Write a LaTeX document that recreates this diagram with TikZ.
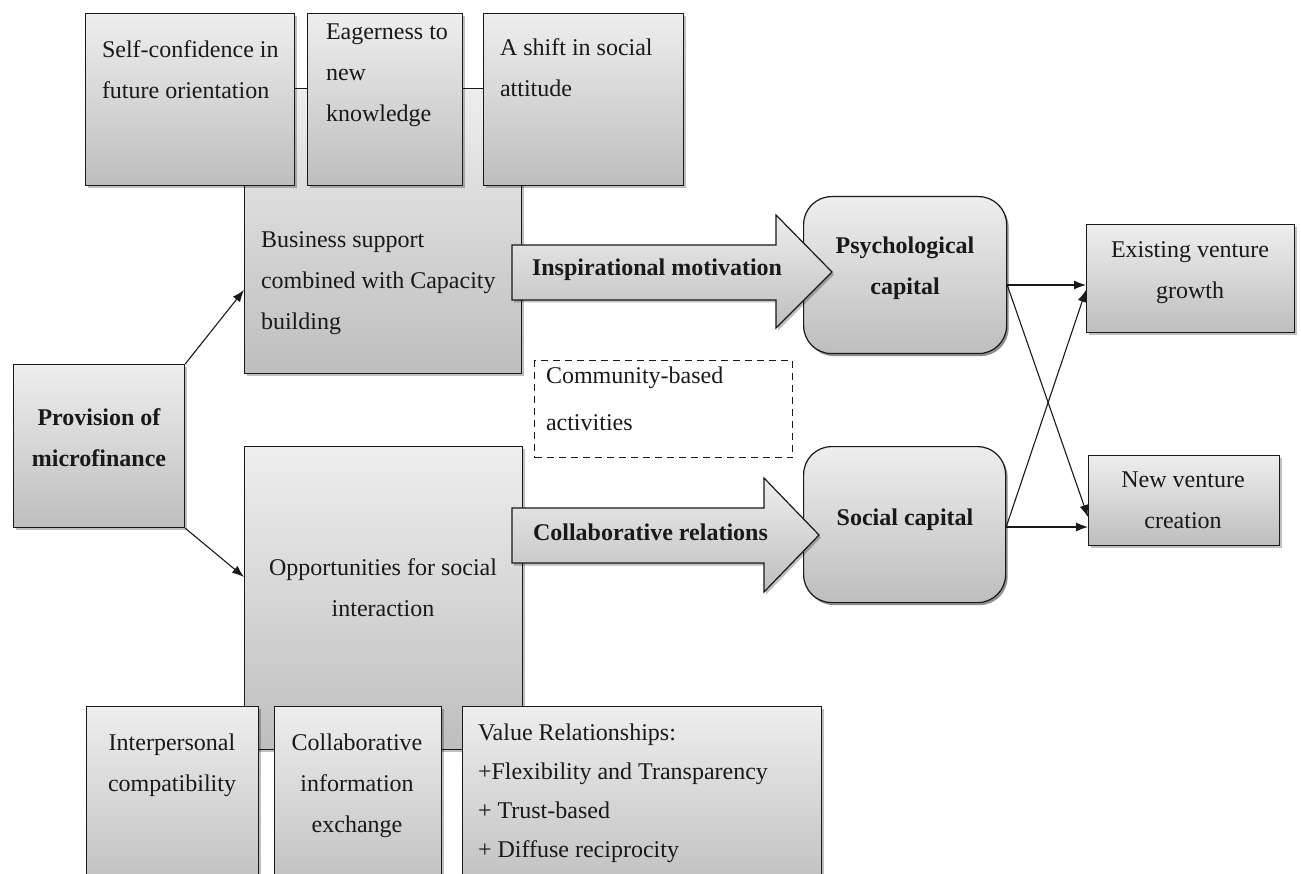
\documentclass[tikz,border=0pt]{standalone}
\usepackage{fontspec}
\setmainfont{Liberation Serif}
\usetikzlibrary{shadows,arrows.meta,calc}
\definecolor{boxtop}{RGB}{238,238,238}
\definecolor{boxbot}{RGB}{190,190,190}
\definecolor{ink}{RGB}{25,25,25}
\newcommand{\gbox}[6][]{\node[box,#1,anchor=north west,minimum width=#5pt,minimum height=#6pt] (#2) at (#3,#4) {};}
\begin{document}
\begin{tikzpicture}[x=1pt,y=-1pt,
  box/.style={draw=ink,line width=1.2pt,top color=boxtop,bottom color=boxbot,rectangle,inner sep=0pt,
    drop shadow={shadow xshift=2pt,shadow yshift=-2.5pt,opacity=0.25,fill=black}},
  rbox/.style={box,rounded corners=28pt},
  txt/.style={inner sep=0pt,outer sep=0pt,text=ink,font=\fontsize{24}{41}\selectfont},
  btxt/.style={txt,font=\fontsize{24}{41}\selectfont\bfseries},
  conn/.style={draw=ink,line width=1.1pt,-{Latex[length=12pt,width=9pt]}},
  barrow/.style={draw=ink,line width=1.2pt,top color=boxtop,bottom color=boxbot,
    drop shadow={shadow xshift=2pt,shadow yshift=-2.5pt,opacity=0.25,fill=black}}]
\useasboundingbox (0,0) rectangle (1301,874);
\clip (0,0) rectangle (1301,874);

% business support cluster
\gbox{bs}{244}{88}{277}{285}
\gbox{sc}{85}{13}{209}{172}
\gbox{eg}{307}{13}{155}{172}
\gbox{sh}{483}{13}{200}{172}
\node[txt,anchor=north west,align=left] (sct) at (102,41) {Self-confidence in\\future orientation};
\node[txt,anchor=north west,align=left] (egt) at (326,24) {Eagerness to\\new\\knowledge};
\node[txt,anchor=north west,align=left] (sht) at (500,39) {A shift in social\\attitude};
\node[txt,anchor=north west,align=left] (bst) at (261,232) {Business support\\combined with Capacity\\building};

% social interaction cluster
\gbox{opp}{244}{446}{278}{303}
\gbox{ip}{86}{706}{172}{190}
\gbox{ci}{274}{706}{167}{190}
\gbox{vr}{462}{706}{359}{190}
\node[txt,anchor=north,align=center] (oppt) at (383,559) {Opportunities for social\\interaction};
\node[txt,anchor=north,align=center] (ipt) at (172,734) {Interpersonal\\compatibility};
\node[txt,anchor=north,align=center] (cit) at (357,734) {Collaborative\\information\\exchange};
\node[txt,anchor=north west,align=left,font=\fontsize{24}{39}\selectfont] (vrt) at (478,724) {Value Relationships:\\+Flexibility and Transparency\\+ Trust-based\\+ Diffuse reciprocity};

% provision
\gbox{prov}{13}{364}{171}{163}
\node[btxt,anchor=north,align=center] (provt) at (99,409) {Provision of\\microfinance};

% capitals
\gbox[rbox]{psy}{803}{196}{203}{157}
\gbox[rbox]{soc}{803}{446}{202}{156}
\node[btxt,anchor=north,align=center] (psyt) at (905,237) {Psychological\\capital};
\node[btxt,anchor=center] (soct) at (905,520) {Social capital};

% outcomes
\gbox{ex}{1086}{224}{208}{108}
\gbox{nv}{1088}{455}{191}{90}
\node[txt,anchor=north,align=center] (ext) at (1190,242) {Existing venture\\growth};
\node[txt,anchor=north,align=center] (nvt) at (1183,472) {New venture\\creation};

% community-based activities
\node[draw=ink,line width=1.1pt,dash pattern=on 7pt off 5pt,anchor=north west,minimum width=258pt,minimum height=97pt,inner sep=0pt] (com) at (534,360) {};
\node[txt,anchor=north west,align=left,font=\fontsize{24}{47}\selectfont] (comt) at (546,367) {Community-based\\activities};

% block arrows
\path[barrow] (512,245) -- (776,245) -- (776,215) -- (832,272) -- (776,328) -- (776,300) -- (512,300) -- cycle;
\node[btxt,anchor=west] (imt) at (532,270) {Inspirational motivation};
\path[barrow] (512,508) -- (764,508) -- (764,478) -- (819,535) -- (764,592) -- (764,563) -- (512,563) -- cycle;
\node[btxt,anchor=west] (crt) at (533,532) {Collaborative relations};

% connectors
\draw[conn] (prov.north east) -- ($(bs.north west)+(0,202)$);
\draw[conn] (prov.south east) -- ($(opp.north west)+(0,131)$);
\draw[conn] ($(psy.north east)+(0,89)$) -- ($(ex.north west)+(0,61)$);
\draw[conn] ($(psy.north east)+(0,89)$) -- ($(nv.north west)+(0,62)$);
\draw[conn] ($(soc.north east)+(0,81)$) -- ($(nv.north west)+(0,72)$);
\draw[conn] ($(soc.north east)+(0,81)$) -- ($(ex.north west)+(0,66)$);
\end{tikzpicture}
\end{document}
